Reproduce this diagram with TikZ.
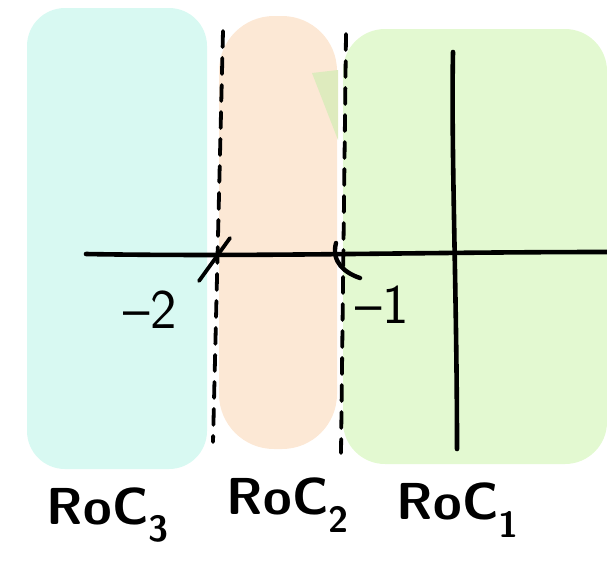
\documentclass[tikz,border=0pt]{standalone}
\usepackage{amsmath,amssymb}
\usepackage{tikz}
\definecolor{rocthree}{RGB}{216,249,242}
\definecolor{roctwo}{RGB}{252,232,213}
\definecolor{rocone}{RGB}{227,249,209}
\definecolor{rocmix}{RGB}{222,235,190}
\tikzset{axisline/.style={line width=4.6pt},
	boundline/.style={line width=3.8pt,dash pattern=on 16pt off 11pt},
	roclabel/.style={font=\sffamily\bfseries\fontsize{52}{52}\selectfont},
	ticklabel/.style={font=\sffamily\fontsize{56}{56}\selectfont}}

\begin{document}
\begin{tikzpicture}[x=1pt,y=-1pt,>=stealth, line join=round, line cap=round]
	\def\xmin{86} \def\xmax{607} \def\ymin{52} \def\ymax{449}
	\useasboundingbox (0,0) rectangle (607,566);
	% regions of convergence
	\foreach \col/\xa/\ya/\xb/\yb/\rr in {rocthree/27/8/207/469/38,roctwo/219/16/337/449/55,rocone/343/29/607/464/42}
	{\fill[\col,rounded corners=\rr pt] (\xa,\ya) rectangle (\xb,\yb);}
	\fill[rocmix] (312,73)--(338,70)--(338,140)--cycle;
	% boundaries
	\coordinate (btop2) at (223,31); \coordinate (bbot2) at (213,442);
	\coordinate (btop1) at (346,34); \coordinate (bbot1) at (341,453);
	\draw[boundline] (btop2)--(bbot2);
	\draw[boundline] (btop1)--(bbot1);
	% axes
	\coordinate (xa) at (\xmin,254); \coordinate (xb) at (\xmax,252);
	\coordinate (ya) at (453,\ymin); \coordinate (yb) at (457,\ymax);
	\draw[axisline] (xa) .. controls (250,257) and (420,252) .. (xb);
	\draw[axisline] (ya) .. controls (451,150) and (457,300) .. (yb);
	% poles
	\coordinate (pa) at (230,238); \coordinate (pb) at (199,281);
	\coordinate (qa) at (336,243); \coordinate (qb) at (360,278);
	\draw[line width=3.8pt] (pa)--(pb);
	\draw[line width=4.4pt] (qa) .. controls (331,262) and (345,273) .. (qb);
	\node[ticklabel] (mtwo) at (150,310) {\textendash2};
	\node[ticklabel] (mone) at (382,305) {\textendash1};
	\node[roclabel] (roc3) at (108,515) {RoC\textsubscript{3}};
	\node[roclabel] (roc2) at (288,505) {RoC\textsubscript{2}};
	\node[roclabel] (roc1) at (458,510) {RoC\textsubscript{1}};
\end{tikzpicture}
\end{document}
